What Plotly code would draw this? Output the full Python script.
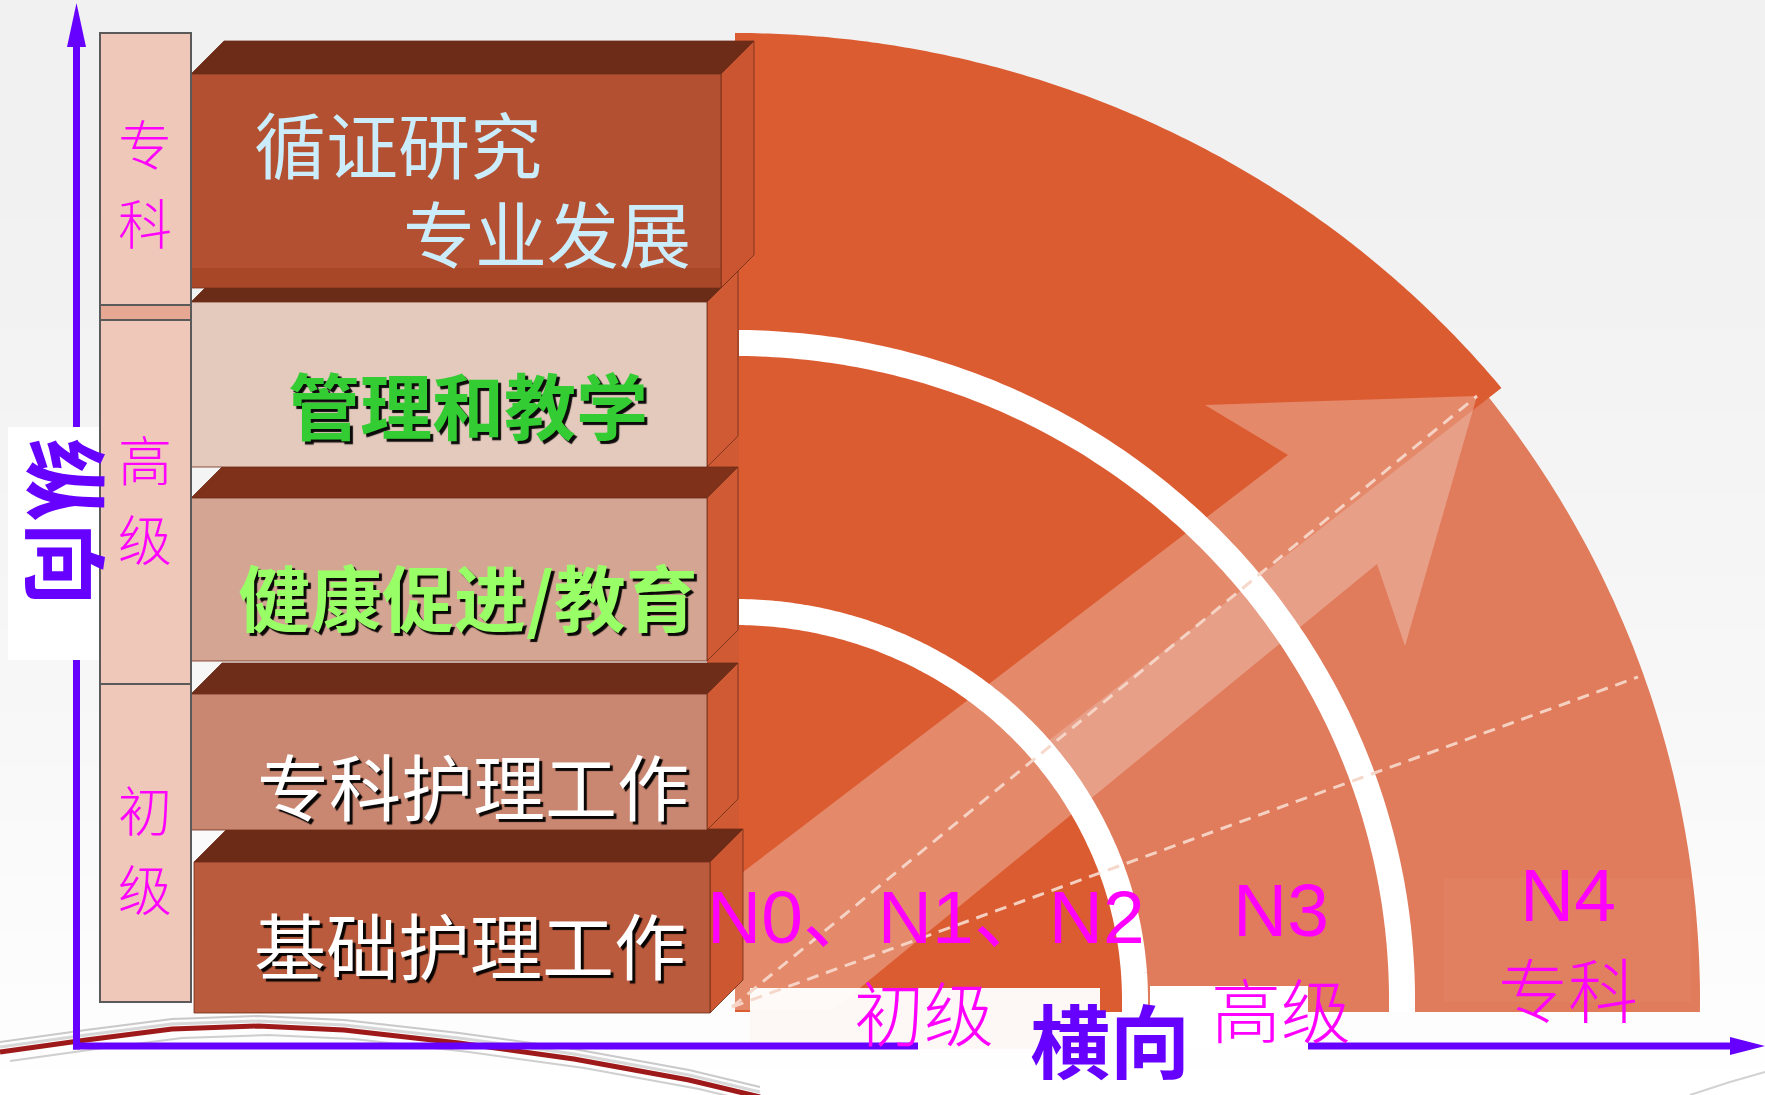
import numpy as np
import plotly.graph_objects as go

W, H = 1765, 1095

# ---- content ----
level_labels = ["专科", "高级", "初级"]
box_titles = ["循证研究", "专业发展", "管理和教学", "健康促进/教育", "专科护理工作", "基础护理工作"]
stage_codes = ["N0、N1、N2", "N3", "N4"]
stage_levels = ["初级", "高级", "专科"]
axis_labels = ["纵向", "横向"]

CJK = "Noto Sans CJK SC"
LAT = "Liberation Sans, Arial, Noto Sans CJK SC"
PURPLE = "#6600ff"
MAGENTA = "#ff00ff"

shapes = []


def pth(pts, close=True):
    s = "M " + " L ".join(f"{x:.1f},{y:.1f}" for x, y in pts)
    return s + (" Z" if close else "")


def ell(cx, cy, rx, ry, t0, t1, n=160):
    t = np.radians(np.linspace(t0, t1, n))
    return list(zip(cx + rx * np.cos(t), cy - ry * np.sin(t)))


def poly(pts, fill, line_color=None, lw=0, opacity=1.0):
    d = dict(type="path", path=pth(pts), fillcolor=fill, opacity=opacity,
             line=dict(width=lw, color=line_color or "rgba(0,0,0,0)"), layer="above")
    shapes.append(d)


def rect(x0, y0, x1, y1, fill, line_color=None, lw=0):
    shapes.append(dict(type="rect", x0=x0, y0=y0, x1=x1, y1=y1, fillcolor=fill,
                       line=dict(width=lw, color=line_color or "rgba(0,0,0,0)"), layer="above"))


def line(pts, color, width, dash=None):
    d = dict(type="path", path=pth(pts, close=False), fillcolor="rgba(0,0,0,0)",
             line=dict(color=color, width=width), layer="above")
    if dash:
        d["line"]["dash"] = dash
    shapes.append(d)


# ---- background gradient ----
nb = 40
for i in range(nb):
    y0 = H * i / nb
    y1 = H * (i + 1) / nb + 1
    c = int(241 + (255 - 241) * (i / (nb - 1)) ** 1.6)
    rect(0, y0, W, y1, f"rgb({c},{c},{c})")

# ---- decorative swoosh ----
sw = [(0, 1052), (86, 1040), (172, 1029), (258, 1026), (344, 1030), (459, 1043),
      (574, 1059), (689, 1080), (760, 1097)]
line([(x, y - 10) for x, y in sw], "rgba(150,150,150,0.5)", 2)
line([(x, y - 5) for x, y in sw], "rgba(190,190,190,0.6)", 3)
line(sw, "#9e1a1a", 5)
line([(x + 10, y + 9) for x, y in sw], "rgba(160,160,160,0.5)", 2)
line([(1690, 1095), (1730, 1082), (1765, 1072)], "rgba(180,180,180,0.6)", 2)

# ---- quarter disc ----
CX, CY = 735, 1000
BOT = 1012
poly([(CX, BOT)] + ell(CX, CY, 965, 965, -0.72, 90), "#e07b5b")
t_end = np.degrees(np.arctan2(615 / 967, 770 / 990))
poly([(CX, 985)] + ell(CX, CY, 990, 967, 90, t_end), "#dc5c32")
poly([(CX, BOT), (CX + 400, BOT)] + ell(CX, CY, 400, 388, 0, 90), "#dc5c32")

# white rectangles behind bottom labels
rect(750, 988, 1100, 1049, "#fdf8f6")
rect(1150, 986, 1308, 1049, "#ffffff")

# white ring separators
line([(CX + 400, BOT)] + ell(CX, CY, 400, 388, 0, 90), "#ffffff", 26)
line([(CX + 667, BOT)] + ell(CX, CY, 667, 657, 0, 90), "#ffffff", 26)

# N4 text box tint
rect(1444, 878, 1691, 1002, "rgba(255,255,255,0.04)")

# big translucent arrow
arrow = [(1477, 396), (1205, 405), (1288, 455), (700, 905), (700, 1010),
         (833, 1010), (1377, 564), (1405, 646)]
poly(arrow, "rgba(255,255,255,0.28)")

# dashed guide lines
line([(732, 1007), (1477, 396)], "rgba(246,214,200,0.95)", 3, "12px,8px")
line([(732, 1007), (1638, 677)], "rgba(246,214,200,0.95)", 3, "12px,8px")

# ---- stacked 3D boxes ----
# continuous side strip behind the stacked boxes
poly([(707, 280), (739, 250), (739, 829), (707, 862)], "#cf5a33")
boxes = [  # x0, x1, y_top_front, y_bottom, depth, top, front, side
    (194, 710, 862, 1013, 33, "#6b2b17", "#ba5b3d", "#cd5731"),
    (191, 707, 694, 830, 31, "#6e2d18", "#c98670", "#cf5a33"),
    (191, 707, 498, 661, 31, "#7f3119", "#d5a594", "#cf5a33"),
    (191, 707, 302, 467, 31, "#6b2c17", "#e4c9bd", "#cf5a33"),
    (191, 721, 74, 288, 33, "#6d2c18", "#b35031", "#cb5530"),
]
edge = "rgba(110,45,25,0.8)"
for x0, x1, yt, yb, d, ctop, cfront, cside in boxes:
    poly([(x0, yt), (x1, yt), (x1 + d, yt - d), (x0 + d, yt - d)], ctop, edge, 1)
    poly([(x1, yt), (x1 + d, yt - d), (x1 + d, yb - d), (x1, yb)], cside, edge, 1)
    rect(x0, yt, x1, yb, cfront, edge, 1)
rect(191, 268, 721, 288, "rgba(150,55,25,0.35)")

# ---- "纵向" white label box ----
rect(8, 427, 100, 660, "#ffffff")

# ---- level column ----
rect(100, 33, 191, 1002, "#efc8b9", "#5a5a5a", 2)
rect(100, 305, 191, 320, "#e6a892", "#5a5a5a", 2)
line([(100, 684), (191, 684)], "#5a5a5a", 2)

# ---- axes ----
AX, AY = 76.5, 1046
line([(AX, 40), (AX, 427)], PURPLE, 7)
line([(AX, 660), (AX, AY + 3.5)], PURPLE, 7)
poly([(AX, 3), (AX - 9.5, 47), (AX + 9.5, 47)], PURPLE)
line([(AX - 3.5, AY), (918, AY)], PURPLE, 7)
line([(1308, AY), (1736, AY)], PURPLE, 7)
poly([(1765, AY), (1730, AY - 9), (1730, AY + 9)], PURPLE)

# ---- annotations ----
ann = []


def txt(text, x, y, size, color, family=CJK, weight="normal", angle=0, shadow=None,
        xanchor="center"):
    f = dict(family=family, size=size, color=color, weight=weight)
    if shadow:
        f["shadow"] = shadow
    ann.append(dict(text=text, x=x, y=y, xref="x", yref="y", showarrow=False,
                    xanchor=xanchor, yanchor="middle", textangle=angle, font=f))


# level column labels (one character each, stacked)
col_pos = [(142, 221), (458, 537), (808, 887)]
for lab, (ya, yb) in zip(level_labels, col_pos):
    txt(lab[0], 145, ya, 54, MAGENTA, weight=300)
    txt(lab[1], 145, yb, 54, MAGENTA, weight=300)

# vertical axis label
txt(axis_labels[0], 70, 522, 84, PURPLE, weight="bold", angle=90)

# box titles
SH = "3px 3px 1px rgba(0,0,0,0.95)"
txt(box_titles[0], 398, 141, 72, "#cbedfb")
txt(box_titles[1], 547, 230, 72, "#cbedfb")
txt(box_titles[2], 468, 402, 72, "#33cc33", weight="bold", shadow=SH)
txt(box_titles[3], 468, 594, 72, "#99ff66", weight="bold", shadow=SH)
txt(box_titles[4], 473, 783, 72, "#ffffff", shadow=SH)
txt(box_titles[5], 470, 942, 72, "#ffffff", shadow=SH)

# stage labels
stage_pos = [(926, 917), (1281, 910), (1568, 895)]
level_pos = [(924, 1010), (1281, 1007), (1568, 987)]
for code, (x, y) in zip(stage_codes, stage_pos):
    txt(code, x, y, 75, MAGENTA, family=LAT)
for lev, (x, y) in zip(stage_levels, level_pos):
    txt(lev, x, y, 70, MAGENTA, weight=300)

# horizontal axis label
txt(axis_labels[1], 1110, 1037, 80, PURPLE, weight="bold")

fig = go.Figure()
fig.add_trace(go.Scatter(x=[0, W], y=[0, H], mode="markers",
                         marker=dict(opacity=0), hoverinfo="skip", showlegend=False))
fig.update_layout(
    width=W, height=H,
    margin=dict(l=0, r=0, t=0, b=0),
    paper_bgcolor="#ffffff", plot_bgcolor="#ffffff",
    xaxis=dict(range=[0, W], visible=False, fixedrange=True),
    yaxis=dict(range=[H, 0], visible=False, fixedrange=True),
    shapes=shapes, annotations=ann, showlegend=False,
)
fig.write_html("out.html", config={"displayModeBar": False},
               post_script="document.body.style.margin='0';document.body.style.overflow='hidden';")
